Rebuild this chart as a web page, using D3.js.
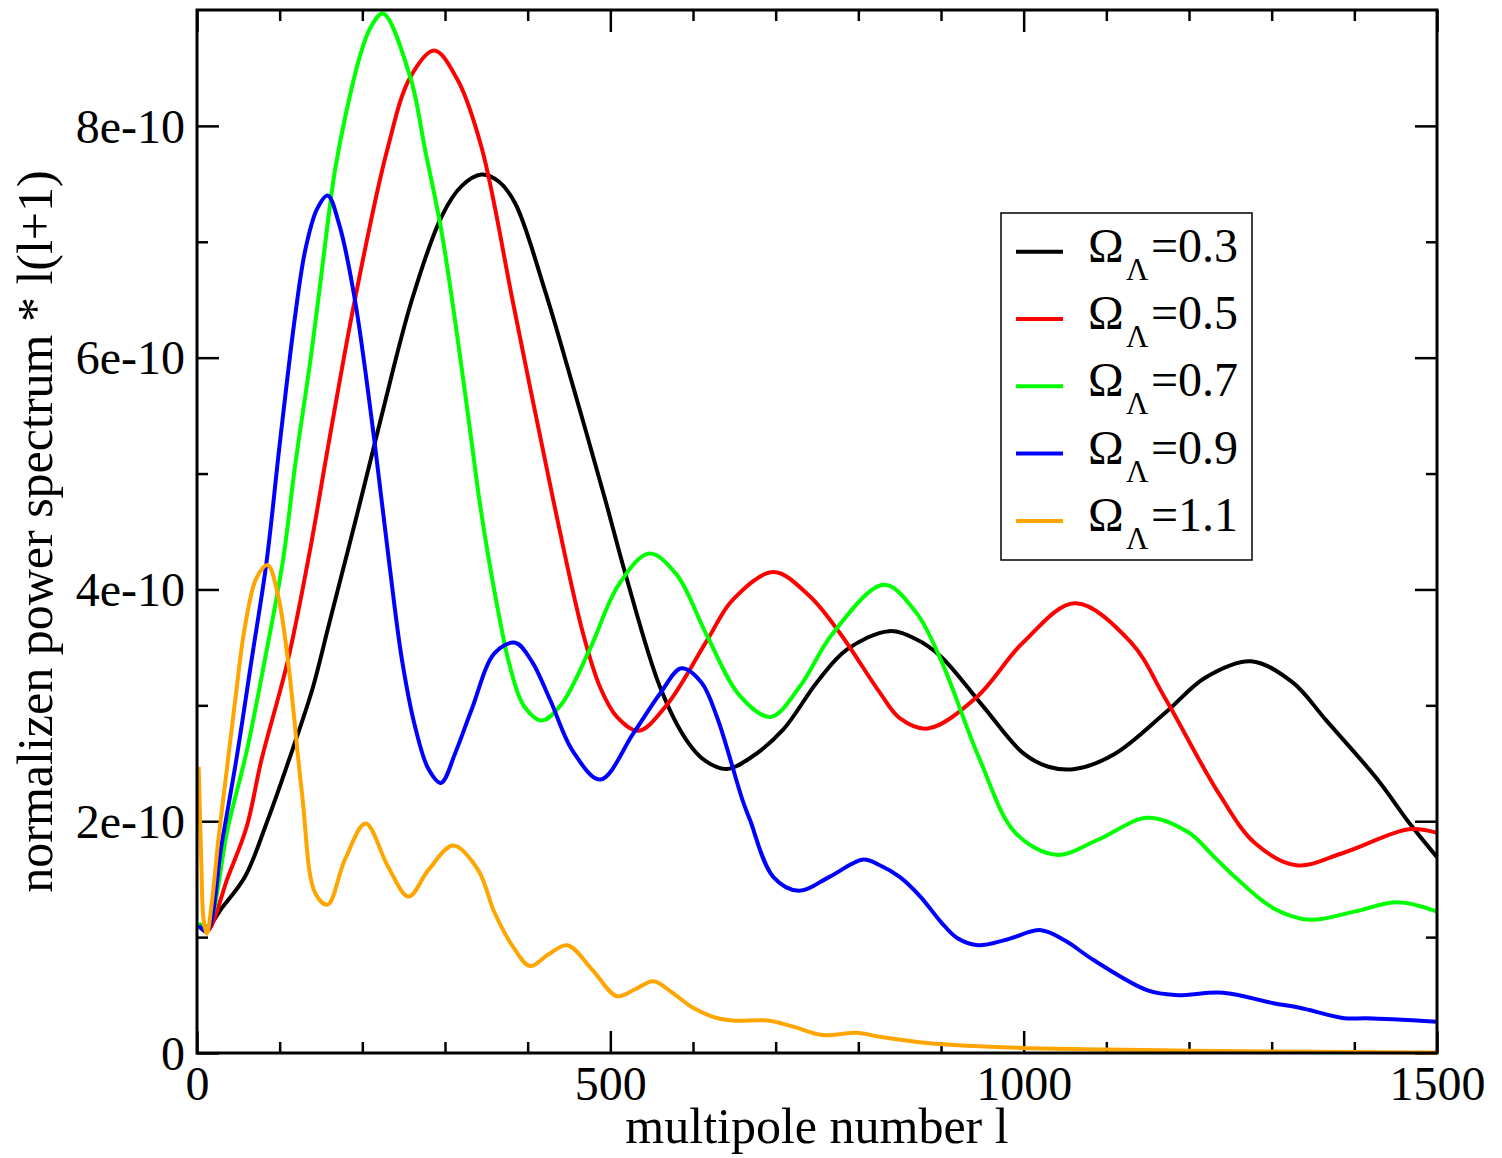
<!DOCTYPE html>
<html>
<head>
<meta charset="utf-8">
<script src="https://cdn.jsdelivr.net/npm/d3@7"></script>
<style>
  html, body { margin: 0; padding: 0; background: #fff; }
  svg { display: block; }
  text { font-family: "Liberation Serif", "Times New Roman", "DejaVu Serif", serif; fill: #000; }
</style>
</head>
<body>
<svg id="chart" width="1502" height="1158"></svg>
<script>
// ---- data (values in units of 1e-10) ----
const UNIT = 1e-10;
const seriesLabels = ["0.3", "0.5", "0.7", "0.9", "1.1"];
const seriesColors = ["#000000", "#ff0000", "#00ff00", "#0000ff", "#ffa500"];

const l03 = [2, 13, 30, 58, 85, 118, 140, 159, 183, 199, 223, 260, 296, 320, 344, 365, 385, 420, 455, 494, 518, 560, 592, 615, 641, 670, 709, 750, 786, 837, 870, 900, 950, 999, 1030, 1062, 1110, 1172, 1220, 1275, 1325, 1366, 1428, 1467, 1500];
const v03 = [1.10, 1.09, 1.25, 1.52, 2.0, 2.67, 3.15, 3.68, 4.35, 4.8, 5.49, 6.50, 7.22, 7.48, 7.58, 7.52, 7.33, 6.6, 5.75, 4.77, 4.14, 3.16, 2.70, 2.52, 2.45, 2.55, 2.79, 3.2, 3.48, 3.64, 3.57, 3.42, 3.0, 2.59, 2.47, 2.45, 2.58, 2.94, 3.24, 3.38, 3.2, 2.87, 2.36, 1.98, 1.69];

const l05 = [2, 12, 37.5, 60, 78, 110, 137, 159, 191, 230, 258, 287, 315, 344, 383, 431, 467, 488, 508, 534, 568, 617, 648, 697, 740, 778, 826, 850, 884, 943, 999, 1062, 1129, 1172, 1236, 1280, 1330, 1388, 1466, 1500];
const v05 = [1.10, 1.05, 1.52, 1.95, 2.53, 3.39, 4.35, 5.25, 6.5, 7.79, 8.42, 8.65, 8.40, 7.82, 6.45, 4.77, 3.62, 3.15, 2.9, 2.78, 3.0, 3.56, 3.91, 4.15, 3.95, 3.62, 3.11, 2.89, 2.80, 3.07, 3.54, 3.88, 3.55, 3.05, 2.24, 1.81, 1.62, 1.73, 1.93, 1.90];

const l07 = [2, 12, 37.5, 60, 82, 104, 118.5, 139, 159, 167, 180, 197, 210, 225, 258, 276, 296, 320, 340, 352, 366, 378, 395, 417, 440, 475, 510, 547, 580, 617, 657, 694, 729, 769, 831, 870, 900, 947, 990, 1040, 1090, 1150, 1200, 1228, 1254, 1302, 1346, 1400, 1452, 1500];
const v07 = [1.12, 1.08, 1.95, 2.6, 3.39, 4.25, 5.06, 6.07, 7.21, 7.62, 8.1, 8.6, 8.85, 8.97, 8.42, 7.79, 7.08, 5.92, 4.85, 4.3, 3.75, 3.35, 3.0, 2.87, 3.0, 3.48, 4.04, 4.31, 4.13, 3.6, 3.08, 2.90, 3.16, 3.62, 4.04, 3.8, 3.39, 2.53, 1.90, 1.71, 1.84, 2.03, 1.90, 1.71, 1.53, 1.25, 1.15, 1.22, 1.30, 1.22];

const l09 = [2, 12, 30, 48, 66, 84, 100, 118.5, 131, 145, 158, 172, 191, 215, 233, 248, 264, 280, 295, 313, 332, 360, 385, 405, 427, 455, 488, 528, 560, 586, 610, 629, 660, 669, 697, 728, 765, 806, 826, 850, 875, 900, 920, 945, 980, 1021, 1050, 1085, 1150, 1184, 1241, 1302, 1334, 1388, 1415, 1500];
const v09 = [1.10, 1.05, 1.81, 2.55, 3.39, 4.23, 5.25, 6.35, 6.93, 7.28, 7.40, 7.15, 6.50, 5.26, 4.2, 3.39, 2.81, 2.45, 2.33, 2.6, 2.96, 3.45, 3.54, 3.38, 3.05, 2.6, 2.36, 2.76, 3.1, 3.32, 3.2, 2.90, 2.18, 2.01, 1.52, 1.40, 1.52, 1.67, 1.62, 1.52, 1.35, 1.13, 0.99, 0.93, 0.98, 1.06, 0.97, 0.80, 0.54, 0.50, 0.52, 0.43, 0.39, 0.30, 0.30, 0.27];

const l11 = [2, 5, 8, 12, 18, 26, 37.5, 48, 58, 72, 85.5, 98, 110, 127, 143, 158, 179, 204, 231, 256, 280, 310, 340, 360, 382, 403, 425, 448, 478, 508, 530, 552, 575, 600, 625, 648, 690, 720, 757, 798, 826, 883, 940, 999, 1100, 1200, 1300, 1400, 1500];
const v11 = [2.47, 1.7, 1.15, 1.03, 1.3, 1.85, 2.53, 3.15, 3.68, 4.1, 4.21, 3.95, 3.39, 2.24, 1.38, 1.28, 1.67, 1.98, 1.61, 1.35, 1.58, 1.79, 1.58, 1.21, 0.92, 0.75, 0.85, 0.93, 0.72, 0.49, 0.55, 0.62, 0.52, 0.39, 0.31, 0.28, 0.28, 0.23, 0.155, 0.175, 0.14, 0.086, 0.06, 0.043, 0.03, 0.02, 0.012, 0.008, 0.005];

const xMajorTicks = [0, 500, 1000, 1500];
const xMinorTicks = [100, 200, 300, 400, 600, 700, 800, 900, 1100, 1200, 1300, 1400];
const yMajorTicks = [0, 2, 4, 6, 8];
const yMinorTicks = [1, 3, 5, 7];
const yTickLabels = ["0", "2e-10", "4e-10", "6e-10", "8e-10"];
const xTitle = "multipole number l";
const yTitle = "normalizen power spectrum * l(l+1)";

const series = [
  { l: l03, v: v03 },
  { l: l05, v: v05 },
  { l: l07, v: v07 },
  { l: l09, v: v09 },
  { l: l11, v: v11 }
];

// ---- layout ----
const svg = d3.select("#chart");
const pLeft = 197, pRight = 1437, pTop = 10, pBottom = 1053;

const x = d3.scaleLinear().domain([0, 1500]).range([pLeft, pRight]);
const y = d3.scaleLinear().domain([0, 9 * UNIT]).range([pBottom, pTop]);

const tickFont = 48;

function styleAxis(g, width) {
  g.selectAll(".domain").remove();
  g.selectAll(".tick line").attr("stroke", "#000").attr("stroke-width", width);
}

// bottom major
svg.append("g").attr("transform", `translate(0,${pBottom})`)
  .call(d3.axisBottom(x).tickValues(xMajorTicks).tickSize(-22).tickSizeOuter(0).tickPadding(13)
        .tickFormat(d3.format("d")))
  .call(g => styleAxis(g, 2.5))
  .call(g => g.selectAll("text").attr("font-size", tickFont).attr("font-family", null));
// bottom minor
svg.append("g").attr("transform", `translate(0,${pBottom})`)
  .call(d3.axisBottom(x).tickValues(xMinorTicks).tickSize(-11).tickSizeOuter(0).tickFormat(""))
  .call(g => styleAxis(g, 2.5));
// top
svg.append("g").attr("transform", `translate(0,${pTop})`)
  .call(d3.axisTop(x).tickValues(xMajorTicks).tickSize(-22).tickSizeOuter(0).tickFormat(""))
  .call(g => styleAxis(g, 2.5));
svg.append("g").attr("transform", `translate(0,${pTop})`)
  .call(d3.axisTop(x).tickValues(xMinorTicks).tickSize(-11).tickSizeOuter(0).tickFormat(""))
  .call(g => styleAxis(g, 2.5));

// left major with labels
svg.append("g").attr("transform", `translate(${pLeft},0)`)
  .call(d3.axisLeft(y).tickValues(yMajorTicks.map(d => d * UNIT)).tickSize(-22).tickSizeOuter(0).tickPadding(12)
        .tickFormat((d, i) => yTickLabels[i]))
  .call(g => styleAxis(g, 2.5))
  .call(g => g.selectAll("text").attr("font-size", tickFont).attr("font-family", null).attr("dy", "0.34em"));
svg.append("g").attr("transform", `translate(${pLeft},0)`)
  .call(d3.axisLeft(y).tickValues(yMinorTicks.map(d => d * UNIT)).tickSize(-11).tickSizeOuter(0).tickFormat(""))
  .call(g => styleAxis(g, 2.5));
// right
svg.append("g").attr("transform", `translate(${pRight},0)`)
  .call(d3.axisRight(y).tickValues(yMajorTicks.map(d => d * UNIT)).tickSize(-22).tickSizeOuter(0).tickFormat(""))
  .call(g => styleAxis(g, 2.5));
svg.append("g").attr("transform", `translate(${pRight},0)`)
  .call(d3.axisRight(y).tickValues(yMinorTicks.map(d => d * UNIT)).tickSize(-11).tickSizeOuter(0).tickFormat(""))
  .call(g => styleAxis(g, 2.5));

// curves
const line = d3.line()
  .x(d => x(d[0]))
  .y(d => y(d[1] * UNIT))
  .curve(d3.curveCatmullRom.alpha(0.5));

const plot = svg.append("g");
series.forEach((s, i) => {
  const pts = s.l.map((l, j) => [l, s.v[j]]);
  plot.append("path")
    .datum(pts)
    .attr("d", line)
    .attr("fill", "none")
    .attr("stroke", seriesColors[i])
    .attr("stroke-width", 4)
    .attr("stroke-linejoin", "round");
});

// frame
svg.append("rect")
  .attr("x", pLeft).attr("y", pTop)
  .attr("width", pRight - pLeft).attr("height", pBottom - pTop)
  .attr("fill", "none").attr("stroke", "#000").attr("stroke-width", 3);

// axis titles
svg.append("text")
  .attr("x", (pLeft + pRight) / 2).attr("y", 1143)
  .attr("text-anchor", "middle").attr("font-size", 50)
  .text(xTitle);
svg.append("text")
  .attr("transform", `translate(52,${(pTop + pBottom) / 2}) rotate(-90)`)
  .attr("text-anchor", "middle").attr("font-size", 50)
  .text(yTitle);

// legend
const lg = svg.append("g");
lg.append("rect")
  .attr("x", 1001).attr("y", 213).attr("width", 251).attr("height", 347)
  .attr("fill", "#fff").attr("stroke", "#000").attr("stroke-width", 1.5);
seriesLabels.forEach((lab, i) => {
  const yy = 251.7 + i * 67.3;
  lg.append("line")
    .attr("x1", 1016).attr("x2", 1063).attr("y1", yy).attr("y2", yy)
    .attr("stroke", seriesColors[i]).attr("stroke-width", 4);
  const t = lg.append("text").attr("x", 1088).attr("y", yy + 10).attr("font-size", 48);
  t.append("tspan").text("Ω");
  t.append("tspan").attr("x", 1126).attr("dy", 18).attr("font-size", 31).text("Λ");
  t.append("tspan").attr("x", 1151).attr("dy", -18).text("=" + lab);
});
</script>
</body>
</html>
